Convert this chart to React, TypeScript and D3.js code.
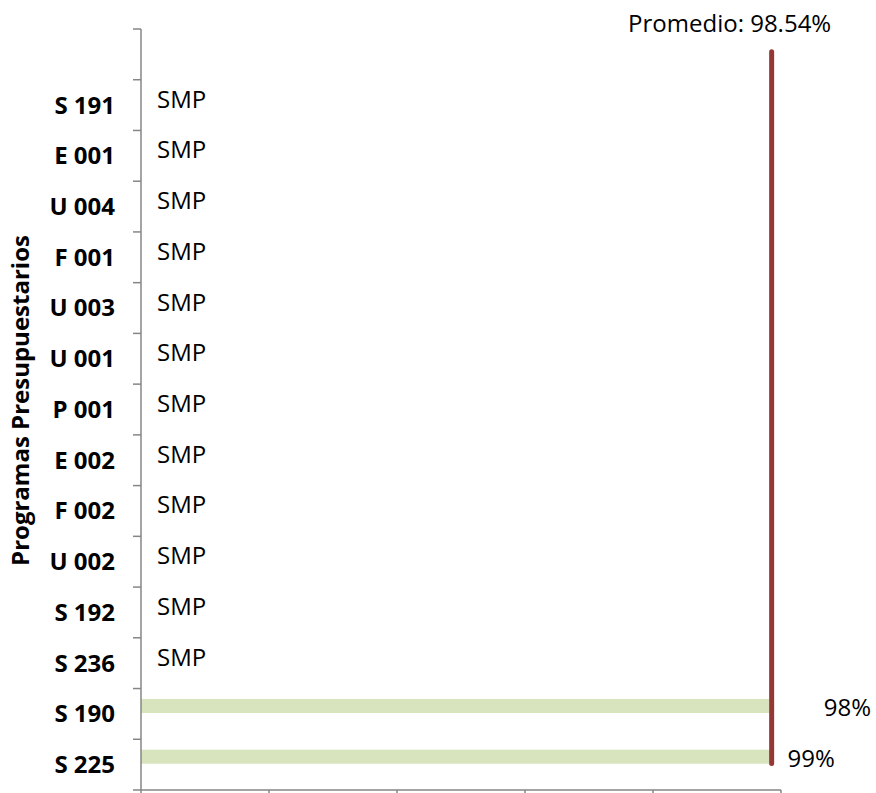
import React from "react";
import * as d3 from "d3";

const categories = ["", "S 191", "E 001", "U 004", "F 001", "U 003", "U 001", "P 001", "E 002", "F 002", "U 002", "S 192", "S 236", "S 190", "S 225"];
const values: (number | null)[] = [null, null, null, null, null, null, null, null, null, null, null, null, null, 0.9825, 0.9883];
const valueLabels = ["", "SMP", "SMP", "SMP", "SMP", "SMP", "SMP", "SMP", "SMP", "SMP", "SMP", "SMP", "SMP", "98%", "99%"];
const average = 0.9854;
const averageLabel = "Promedio: 98.54%";
const xTicks = [0, 0.2, 0.4, 0.6, 0.8, 1.0];
const yTitle = "Programas Presupuestarios";

const W = 876;
const H = 793;
const left = 141;
const right = 781;
const top = 29;
const bottom = 790;
const FONT = "'Open Sans', 'Noto Sans', sans-serif";
const FS = 24;

export default function App() {
  const x = d3.scaleLinear().domain([0, 1]).range([left, right]);
  const y = d3.scaleBand<string>().domain(categories.map((c, i) => i + ":" + c)).range([top, bottom]).paddingInner(0).paddingOuter(0);
  const keys = y.domain();
  const bw = y.bandwidth();
  const barH = bw * 0.276;
  const barOff = bw * 0.156; // bar sits above band centre (clustered layout)
  const boundaries = d3.range(categories.length + 1).map((i) => top + i * bw);
  const lineTop = (y(keys[0]) as number) + bw * 0.45;
  const lineBottom = (y(keys[keys.length - 1]) as number) + bw * 0.48;
  return (
    <svg width={W} height={H} style={{ position: "absolute", left: 0, top: 0, background: "#fff" }}>
      {/* bars */}
      {values.map((v, i) =>
        v == null ? null : (
          <rect key={"b" + i} x={x(0)} y={(y(keys[i]) as number) + bw / 2 - barOff - barH / 2} width={x(v) - x(0)} height={barH} fill="#d7e4bd" />
        )
      )}
      {/* axes */}
      <line x1={left} x2={left} y1={top} y2={bottom} stroke="#868686" strokeWidth={1.5} />
      <line x1={left} x2={right} y1={bottom} y2={bottom} stroke="#868686" strokeWidth={1.5} />
      {boundaries.map((b, i) => (
        <line key={"yt" + i} x1={left - 8} x2={left} y1={b} y2={b} stroke="#868686" strokeWidth={1.5} />
      ))}
      {xTicks.map((t, i) => (
        <line key={"xt" + i} x1={x(t)} x2={x(t)} y1={bottom} y2={bottom + 8} stroke="#868686" strokeWidth={1.5} />
      ))}
      {/* category labels */}
      {categories.map((c, i) => (
        <text key={"c" + i} x={left - 26} y={(y(keys[i]) as number) + bw / 2} dy="0.35em" textAnchor="end" fontFamily={FONT} fontWeight="bold" fontSize={FS} fill="#000">
          {c}
        </text>
      ))}
      {/* value labels */}
      {valueLabels.map((l, i) => {
        const v = values[i];
        const cy = (y(keys[i]) as number) + bw / 2 - barOff + 2;
        if (v == null) {
          return (
            <text key={"v" + i} x={left + 16} y={cy} dy="0.35em" fontFamily={FONT} fontSize={FS} fill="#000">
              {l}
            </text>
          );
        }
        const lx = i === categories.length - 1 ? x(v) + 14 : x(v) + 54;
        return (
          <text key={"v" + i} x={lx} y={cy} dy="0.35em" fontFamily={FONT} fontSize={FS} fill="#000">
            {l}
          </text>
        );
      })}
      {/* average line */}
      <line x1={x(average)} x2={x(average)} y1={lineTop} y2={lineBottom} stroke="#953735" strokeWidth={5} strokeLinecap="round" />
      <text x={x(average) - 42} y={32} textAnchor="middle" fontFamily={FONT} fontSize={FS} fill="#000">
        {averageLabel}
      </text>
      {/* y title */}
      <text transform={`translate(29,${(top + bottom) / 2 - 9}) rotate(-90)`} textAnchor="middle" fontFamily={FONT} fontWeight="bold" fontSize={FS} fill="#000">
        {yTitle}
      </text>
    </svg>
  );
}
